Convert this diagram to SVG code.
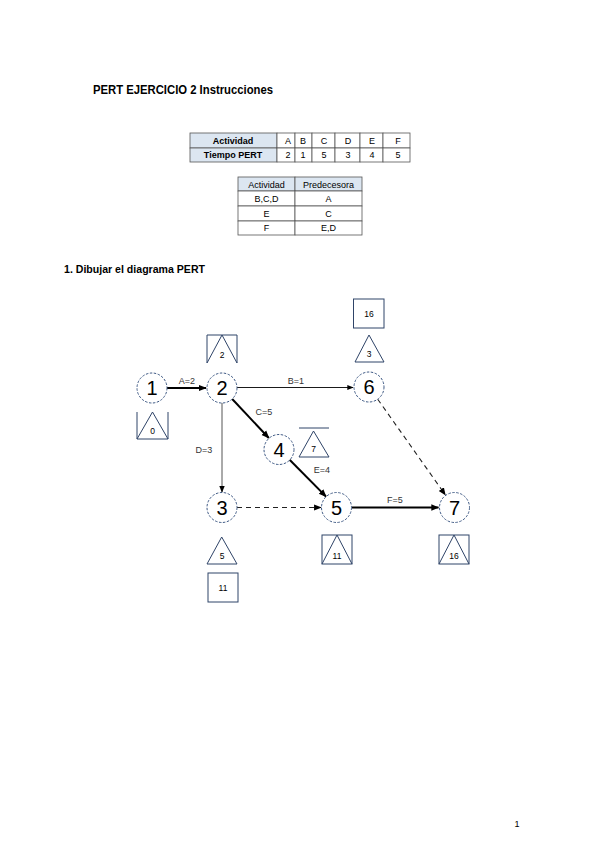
<svg xmlns="http://www.w3.org/2000/svg" width="600" height="848" viewBox="0 0 600 848">
<style>
text{font-family:"Liberation Sans",Arial,sans-serif;fill:#000}
.title{font-size:12.5px;font-weight:bold}
.tb{font-size:9px}
.tbb{font-size:9px;font-weight:bold}
.cell{fill:#fff;stroke:#555;stroke-width:0.8}
.hdr{fill:#dce6f1;stroke:#555;stroke-width:0.8}
.node circle{fill:#fff;stroke:#3f5a85;stroke-width:1;stroke-dasharray:2.5 1.5}
.num{font-size:20px;text-anchor:middle}
.shape{fill:none;stroke:#2f4468;stroke-width:1}
.small{font-size:8.5px;text-anchor:middle}
.lbl{font-size:9px;fill:#333}
.thick{stroke:#000;stroke-width:2;fill:none}
.thin{stroke:#000;stroke-width:0.9;fill:none}
.grey{stroke:#555;stroke-width:1;fill:none}
.dash{stroke:#222;stroke-width:1.1;fill:none;stroke-dasharray:5 4}
</style>
<defs>
<marker id="ah" viewBox="0 0 10 10" refX="9" refY="5" markerWidth="4" markerHeight="4" orient="auto" markerUnits="strokeWidth"><path d="M0,1 L10,5 L0,9 Z" fill="#000"/></marker>
<marker id="ahs" viewBox="0 0 10 10" refX="9" refY="5" markerWidth="7" markerHeight="7" orient="auto" markerUnits="strokeWidth"><path d="M0,1 L10,5 L0,9 Z" fill="#000"/></marker>
</defs>
<rect width="600" height="848" fill="#fff"/>
<text class="title" x="93" y="94" textLength="180" lengthAdjust="spacingAndGlyphs">PERT EJERCICIO 2 Instrucciones</text>

<g id="table1">
<rect class="hdr" x="190" y="133" width="87" height="15"/>
<rect class="hdr" x="190" y="148" width="87" height="14"/>
<rect class="cell" x="277" y="133" width="18" height="15"/><rect class="cell" x="295" y="133" width="17" height="15"/><rect class="cell" x="312" y="133" width="23" height="15"/><rect class="cell" x="335" y="133" width="25" height="15"/><rect class="cell" x="360" y="133" width="23" height="15"/><rect class="cell" x="383" y="133" width="27" height="15"/>
<rect class="cell" x="277" y="148" width="18" height="14"/><rect class="cell" x="295" y="148" width="17" height="14"/><rect class="cell" x="312" y="148" width="23" height="14"/><rect class="cell" x="335" y="148" width="25" height="14"/><rect class="cell" x="360" y="148" width="23" height="14"/><rect class="cell" x="383" y="148" width="27" height="14"/>
<g class="tbb" text-anchor="middle"><text x="233" y="144">Actividad</text><text x="233" y="158">Tiempo PERT</text></g>
<g class="tb" text-anchor="middle">
<text x="288" y="144">A</text><text x="303" y="144">B</text><text x="324" y="144">C</text><text x="348" y="144">D</text><text x="372" y="144">E</text><text x="398" y="144">F</text>
<text x="288" y="158">2</text><text x="303" y="158">1</text><text x="324" y="158">5</text><text x="348" y="158">3</text><text x="372" y="158">4</text><text x="398" y="158">5</text>
</g>
</g>

<g id="table2">
<rect class="hdr" x="238" y="177" width="57" height="14"/><rect class="hdr" x="295" y="177" width="67" height="14"/>
<rect class="cell" x="238" y="191" width="57" height="15"/><rect class="cell" x="295" y="191" width="67" height="15"/>
<rect class="cell" x="238" y="206" width="57" height="15"/><rect class="cell" x="295" y="206" width="67" height="15"/>
<rect class="cell" x="238" y="221" width="57" height="14"/><rect class="cell" x="295" y="221" width="67" height="14"/>
<g class="tb" text-anchor="middle">
<text x="266.5" y="188">Actividad</text><text x="328.5" y="188">Predecesora</text>
<text x="266.5" y="202">B,C,D</text><text x="328.5" y="202">A</text>
<text x="266.5" y="217">E</text><text x="328.5" y="217">C</text>
<text x="266.5" y="231">F</text><text x="328.5" y="231">E,D</text>
</g>
</g>

<text class="title" x="64" y="273" style="font-size:11px" textLength="141" lengthAdjust="spacingAndGlyphs">1.  Dibujar el diagrama PERT</text>

<g id="connectors">
<line class="thick" x1="167" y1="388" x2="206" y2="388" marker-end="url(#ah)"/>
<line class="thin" x1="237" y1="387.5" x2="353" y2="387.5" marker-end="url(#ahs)"/>
<line class="thick" x1="232.2" y1="399" x2="268.8" y2="438" marker-end="url(#ah)"/>
<line class="grey" x1="222" y1="403" x2="222" y2="492" marker-end="url(#ahs)"/>
<line class="thick" x1="289.6" y1="459.7" x2="326.1" y2="496.6" marker-end="url(#ah)"/>
<line class="dash" x1="237" y1="507.5" x2="321" y2="507.5" marker-end="url(#ahs)"/>
<line class="thick" x1="351.7" y1="507.5" x2="438.5" y2="507.5" marker-end="url(#ah)"/>
<line class="dash" x1="377.7" y1="399.2" x2="445.3" y2="494.8" marker-end="url(#ahs)"/>
<text class="lbl" x="187" y="384" text-anchor="middle">A=2</text>
<text class="lbl" x="296" y="384" text-anchor="middle">B=1</text>
<text class="lbl" x="264" y="415" text-anchor="middle">C=5</text>
<text class="lbl" x="204" y="453" text-anchor="middle">D=3</text>
<text class="lbl" x="322" y="473" text-anchor="middle">E=4</text>
<text class="lbl" x="395" y="503" text-anchor="middle">F=5</text>
</g>

<g id="node1" class="node"><circle cx="152" cy="388" r="15"/><text class="num" x="152" y="395">1</text></g>
<g id="node2" class="node"><circle cx="222" cy="388" r="15"/><text class="num" x="222" y="395">2</text></g>
<g id="node6" class="node"><circle cx="369" cy="387" r="15"/><text class="num" x="369" y="394">6</text></g>
<g id="node4" class="node"><circle cx="279" cy="449.5" r="15"/><text class="num" x="279" y="456.5">4</text></g>
<g id="node3" class="node"><circle cx="222" cy="507.5" r="15"/><text class="num" x="222" y="514.5">3</text></g>
<g id="node5" class="node"><circle cx="336.5" cy="507.5" r="15"/><text class="num" x="336.5" y="514.5">5</text></g>
<g id="node7" class="node"><circle cx="454.5" cy="507.5" r="15"/><text class="num" x="454.5" y="514.5">7</text></g>

<g id="label2"><path class="shape" d="M207,363 V335 H237 V363 M207,363 L222,335 L237,363"/><text class="small" x="222" y="358">2</text></g>
<g id="label1"><path class="shape" d="M137,412 V439 H168 V412 M137,439 L152.5,412 L168,439"/><text class="small" x="152.5" y="434">0</text></g>
<g id="label6">
<rect class="shape" x="353.5" y="299" width="30.5" height="29"/><text class="small" x="369" y="317">16</text>
<path class="shape" d="M355,362 L369,335 L384,362 Z"/><text class="small" x="369" y="357">3</text>
</g>
<g id="label4"><line class="shape" x1="299" y1="428" x2="329" y2="428"/><path class="shape" d="M299,457 L313.5,431 L329,457 Z"/><text class="small" x="313.5" y="452">7</text></g>
<g id="label3">
<path class="shape" d="M207,564 L221.7,537 L237,564 Z"/><text class="small" x="222" y="559">5</text>
<rect class="shape" x="208" y="573" width="30" height="29"/><text class="small" x="223" y="591">11</text>
</g>
<g id="label5"><rect class="shape" x="322" y="535" width="30" height="29"/><path class="shape" d="M322,564 L337,535 L352,564"/><text class="small" x="337" y="559">11</text></g>
<g id="label7"><rect class="shape" x="439" y="535" width="30" height="29"/><path class="shape" d="M439,564 L454,535 L469,564"/><text class="small" x="454" y="559">16</text></g>

<text x="517" y="827" style="font-size:9px" text-anchor="middle">1</text>
</svg>
